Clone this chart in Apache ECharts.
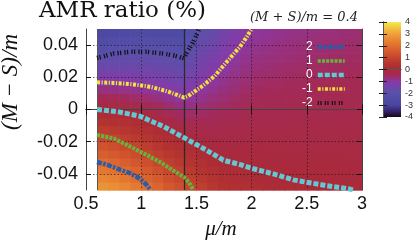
<!DOCTYPE html>
<html><head><meta charset="utf-8">
<script src="https://cdn.jsdelivr.net/npm/echarts@6/dist/echarts.min.js"></script>
<style>html,body{margin:0;padding:0;background:#fff}#c{width:416px;height:240px}</style>
</head><body><div id="c"></div>
<script>
// ---- data ----
const muCenters = [0.65,0.75,0.85,0.95,1.05,1.15,1.25,1.35,1.45,1.55,1.65,1.75,1.85,1.95,2.05,2.15,2.25,2.35,2.45,2.55,2.65,2.75,2.85,2.95];
const deltaCenters = [-0.0475,-0.0425,-0.0375,-0.0325,-0.0275,-0.0225,-0.0175,-0.0125,-0.0075,-0.0025,0.0025,0.0075,0.0125,0.0175,0.0225,0.0275,0.0325,0.0375,0.0425,0.0475];
// AMR ratio (%) per mu column, bottom (delta=-0.0475) to top (delta=0.0475)
const amrColumns = [
 [2.76,2.48,2.20,1.92,1.63,1.35,1.07,0.76,0.45,0.14,-0.16,-0.46,-0.75,-1.04,-1.35,-1.66,-1.97,-2.27,-2.53,-2.78],
 [2.66,2.37,2.09,1.80,1.51,1.23,0.94,0.66,0.37,0.09,-0.20,-0.49,-0.77,-1.06,-1.33,-1.61,-1.89,-2.16,-2.42,-2.68],
 [2.47,2.19,1.92,1.64,1.36,1.08,0.82,0.55,0.29,0.03,-0.25,-0.53,-0.81,-1.08,-1.33,-1.59,-1.85,-2.10,-2.35,-2.60],
 [2.23,1.97,1.71,1.45,1.18,0.93,0.68,0.44,0.20,-0.05,-0.32,-0.59,-0.85,-1.11,-1.35,-1.60,-1.84,-2.08,-2.32,-2.56],
 [2.03,1.77,1.51,1.26,1.00,0.77,0.53,0.30,0.07,-0.17,-0.42,-0.66,-0.91,-1.15,-1.38,-1.61,-1.85,-2.08,-2.30,-2.52],
 [1.78,1.53,1.28,1.03,0.80,0.59,0.37,0.15,-0.07,-0.30,-0.52,-0.75,-0.98,-1.20,-1.43,-1.66,-1.89,-2.11,-2.33,-2.55],
 [1.47,1.26,1.04,0.83,0.63,0.42,0.21,0.00,-0.21,-0.43,-0.64,-0.85,-1.07,-1.28,-1.50,-1.72,-1.93,-2.14,-2.35,-2.55],
 [1.26,1.06,0.86,0.66,0.46,0.26,0.06,-0.14,-0.35,-0.55,-0.76,-0.96,-1.17,-1.38,-1.58,-1.79,-1.99,-2.20,-2.40,-2.60],
 [1.02,0.83,0.65,0.46,0.28,0.09,-0.08,-0.25,-0.42,-0.59,-0.76,-0.93,-1.10,-1.28,-1.45,-1.62,-1.79,-1.97,-2.14,-2.30],
 [0.81,0.64,0.47,0.31,0.14,-0.03,-0.16,-0.29,-0.42,-0.56,-0.69,-0.82,-0.95,-1.08,-1.22,-1.35,-1.48,-1.61,-1.74,-1.88],
 [0.60,0.43,0.29,0.14,0.00,-0.11,-0.21,-0.32,-0.42,-0.53,-0.63,-0.74,-0.84,-0.95,-1.06,-1.19,-1.31,-1.44,-1.56,-1.69],
 [0.40,0.27,0.14,0.02,-0.07,-0.15,-0.24,-0.32,-0.41,-0.49,-0.58,-0.66,-0.75,-0.83,-0.92,-1.00,-1.10,-1.20,-1.30,-1.40],
 [0.30,0.20,0.09,-0.01,-0.09,-0.16,-0.23,-0.30,-0.38,-0.45,-0.52,-0.59,-0.67,-0.74,-0.81,-0.88,-0.96,-1.03,-1.11,-1.19],
 [0.24,0.15,0.05,-0.04,-0.10,-0.16,-0.23,-0.29,-0.35,-0.41,-0.48,-0.54,-0.60,-0.66,-0.73,-0.79,-0.85,-0.91,-0.97,-1.04],
 [0.18,0.10,0.01,-0.05,-0.10,-0.16,-0.21,-0.27,-0.32,-0.38,-0.43,-0.49,-0.54,-0.60,-0.65,-0.71,-0.76,-0.82,-0.87,-0.93],
 [0.08,0.03,-0.02,-0.07,-0.12,-0.17,-0.22,-0.27,-0.32,-0.37,-0.42,-0.47,-0.52,-0.57,-0.62,-0.67,-0.73,-0.78,-0.83,-0.88],
 [0.06,0.02,-0.03,-0.08,-0.13,-0.17,-0.22,-0.27,-0.32,-0.36,-0.41,-0.46,-0.51,-0.56,-0.60,-0.65,-0.70,-0.75,-0.79,-0.84],
 [0.04,0.00,-0.04,-0.09,-0.13,-0.18,-0.22,-0.27,-0.31,-0.36,-0.40,-0.44,-0.49,-0.53,-0.58,-0.62,-0.67,-0.71,-0.75,-0.80],
 [0.03,-0.02,-0.06,-0.10,-0.14,-0.18,-0.23,-0.27,-0.31,-0.35,-0.39,-0.44,-0.48,-0.52,-0.56,-0.60,-0.65,-0.69,-0.73,-0.77],
 [0.01,-0.03,-0.07,-0.11,-0.15,-0.19,-0.23,-0.27,-0.31,-0.35,-0.39,-0.43,-0.47,-0.50,-0.54,-0.58,-0.62,-0.66,-0.70,-0.74],
 [0.00,-0.04,-0.08,-0.11,-0.15,-0.19,-0.23,-0.27,-0.30,-0.34,-0.38,-0.42,-0.46,-0.49,-0.53,-0.57,-0.61,-0.65,-0.68,-0.72],
 [0.00,-0.04,-0.07,-0.11,-0.14,-0.18,-0.22,-0.25,-0.29,-0.33,-0.36,-0.40,-0.44,-0.47,-0.51,-0.55,-0.58,-0.62,-0.66,-0.70],
 [-0.01,-0.05,-0.08,-0.12,-0.15,-0.19,-0.22,-0.26,-0.29,-0.33,-0.36,-0.40,-0.43,-0.47,-0.50,-0.54,-0.57,-0.61,-0.64,-0.68],
 [-0.02,-0.05,-0.09,-0.12,-0.15,-0.19,-0.22,-0.26,-0.29,-0.32,-0.36,-0.39,-0.42,-0.46,-0.49,-0.53,-0.56,-0.59,-0.63,-0.66]
];
const cellWidth = 0.1;
const cellHeight = 0.005;

// contour lines (level -> [mu, delta] points)
const contourLevel2 = [[0.6,-0.0326],[0.7,-0.0345],[0.784,-0.0368],[0.88,-0.039],[0.965,-0.042],[1.02,-0.0448],[1.055,-0.0473],[1.085,-0.05]];
const contourLevel1 = [[0.6,-0.0158],[0.75,-0.018],[0.874,-0.0221],[0.99,-0.0262],[1.086,-0.0295],[1.18,-0.033],[1.267,-0.0369],[1.33,-0.0395],[1.388,-0.042],[1.43,-0.045],[1.46,-0.0485],[1.47,-0.05]];
const contourLevel0 = [[0.6,0.0],[0.8,-0.0015],[0.99,-0.0042],[1.2,-0.0105],[1.396,-0.0178],[1.59,-0.0252],[1.744,-0.0315],[1.895,-0.0342],[2.016,-0.0368],[2.197,-0.04],[2.378,-0.0437],[2.5,-0.0452],[2.68,-0.0473],[2.89,-0.0494],[2.92,-0.05]];
const contourLevelM1 = [[0.6,0.0169],[0.75,0.0165],[0.9,0.0158],[1.05,0.0145],[1.14,0.0131],[1.25,0.011],[1.35,0.0084],[1.39,0.0074],[1.427,0.0084],[1.49,0.0115],[1.56,0.0148],[1.668,0.021],[1.774,0.0295],[1.895,0.039],[1.95,0.0445],[2.0,0.05]];
const contourLevelM2 = [[0.6,0.032],[0.75,0.0347],[0.9,0.0358],[1.05,0.0358],[1.2,0.0347],[1.3,0.0335],[1.385,0.0318],[1.395,0.033],[1.42,0.036],[1.455,0.04],[1.49,0.0445],[1.525,0.05]];
const contourNames = ['2','1','0','-1','-2'];

const muBoundary = 1.39;
const muStart = 0.6;
const xTickValues = [0.5,1,1.5,2,2.5,3];
const yTickValues = [-0.04,-0.02,0,0.02,0.04];
const colorbarTicks = [-4,-3,-2,-1,0,1,2,3,4];
const paletteColors = ['#160818','#34246c','#4844a0','#504ca6','#5a50aa','#6e46aa','#8a38a6','#a42a58','#aa2a38','#b43430','#c4452e','#d4592e','#e06e30','#e88634','#eea03a','#f2c442','#f6ea4c'];

// ---- build ----
const heatData = [];
muCenters.forEach((mu, i) => deltaCenters.forEach((d, j) => heatData.push([mu, d, amrColumns[i][j]])));

const cbMin = colorbarTicks[0], cbMax = colorbarTicks[colorbarTicks.length - 1];
const gradStops = paletteColors.map((c, i) => ({offset: 1 - i / (paletteColors.length - 1), color: c}));

const sans = '"Liberation Sans", Arial, sans-serif';
const tickStyle = {show: true, inside: true, length: 5, lineStyle: {color: '#111', width: 1}};
const frameLine = {show: true, lineStyle: {color: '#444', width: 1}};

const lineStyles = [
  {color: '#2a5ca8', width: 4.5, type: [5, 1.4, 2.5, 1.4]},
  {color: '#66b43c', width: 4, type: [3, 1.2]},
  {color: '#62c8d4', width: 5, type: [5, 2]},
  {color: '#f2e23e', width: 4, type: [3, 1.5, 1.2, 1.5]},
  {color: '#111111', width: 4.5, type: [1.2, 1.4, 1.2, 3.2]}
];
const contourData = [contourLevel2, contourLevel1, contourLevel0, contourLevelM1, contourLevelM2];

const chart = echarts.init(document.getElementById('c'), null, {renderer: 'canvas'});

const series = [{
  type: 'custom', xAxisIndex: 0, yAxisIndex: 0, z: 1, silent: true,
  data: heatData,
  dimensions: ['mu', 'delta', 'amr'],
  encode: {x: 0, y: 1},
  renderItem: function (params, api) {
    const x = api.value(0), y = api.value(1);
    const p0 = api.coord([x - cellWidth / 2, y + cellHeight / 2]);
    const p1 = api.coord([x + cellWidth / 2, y - cellHeight / 2]);
    return {type: 'rect', shape: {x: p0[0], y: p0[1], width: p1[0] - p0[0] + 0.7, height: p1[1] - p0[1] + 0.7},
      style: {fill: api.visual('color')}};
  },
  markLine: {
    silent: true, symbol: ['none', 'none'], label: {show: false}, animation: false,
    data: [
      {xAxis: muBoundary, lineStyle: {color: '#2a2a2a', width: 1.3, type: 'solid'}},
      {xAxis: muStart, lineStyle: {color: '#555', width: 1, type: 'solid'}}
    ]
  }
}];
contourNames.forEach((name, i) => {
  series.push({
    type: 'line', name: name, xAxisIndex: 0, yAxisIndex: 0, z: 6,
    data: contourData[i], symbol: 'none', showSymbol: false, smooth: false,
    lineStyle: lineStyles[i], silent: true, animation: false
  });
});
series.push({
  type: 'custom', xAxisIndex: 2, yAxisIndex: 3, z: 1, silent: true,
  data: [[0, cbMin, cbMax]],
  renderItem: function (params, api) {
    const p0 = api.coord([0, api.value(2)]);
    const p1 = api.coord([1, api.value(1)]);
    return {type: 'rect', shape: {x: p0[0], y: p0[1], width: p1[0] - p0[0], height: p1[1] - p0[1]},
      style: {fill: new echarts.graphic.LinearGradient(0, 0, 0, 1, gradStops.slice().reverse())}};
  }
});

const option = {
  animation: false,
  backgroundColor: '#fff',
  grid: [
    {left: 86, top: 29, width: 276, height: 161, show: false},
    {left: 383, top: 22, width: 19, height: 95, show: false}
  ],
  visualMap: {show: false, type: 'continuous', min: cbMin, max: cbMax, dimension: 2, seriesIndex: 0,
    inRange: {color: paletteColors}},
  xAxis: [
    {type: 'value', gridIndex: 0, position: 'bottom', min: 0.5, max: 3, interval: 0.5, z: 4,
      axisLine: frameLine, axisTick: tickStyle,
      axisLabel: {fontFamily: sans, fontSize: 18, color: '#111', margin: 5},
      splitLine: {show: true, lineStyle: {color: 'rgba(25,25,25,0.65)', width: 1, type: [1.5, 2]}}},
    {type: 'value', gridIndex: 0, position: 'top', min: 0.5, max: 3, interval: 0.5, z: 4,
      axisLine: frameLine, axisTick: tickStyle, axisLabel: {show: false}, splitLine: {show: false}},
    {type: 'value', gridIndex: 1, position: 'bottom', min: 0, max: 1, z: 4,
      axisLine: {show: true, lineStyle: {color: '#555'}}, axisTick: {show: false}, axisLabel: {show: false}, splitLine: {show: false}},
    {type: 'value', gridIndex: 1, position: 'top', min: 0, max: 1, z: 4,
      axisLine: {show: true, lineStyle: {color: '#555'}}, axisTick: {show: false}, axisLabel: {show: false}, splitLine: {show: false}}
  ],
  yAxis: [
    {type: 'value', gridIndex: 0, position: 'left', min: -0.05, max: 0.05, interval: 0.01, z: 4,
      axisLine: frameLine, axisTick: {show: false},
      axisLabel: {fontFamily: sans, fontSize: 18, color: '#111', margin: 8,
        formatter: function (v) {
          const k = Math.round(v * 100);
          const hit = yTickValues.some(t => Math.abs(t - v) < 1e-9);
          if (!hit) return '';
          return k === 0 ? '0' : (k / 100).toFixed(2);
        }},
      splitLine: {show: true, lineStyle: {color: ['rgba(0,0,0,0)', 'rgba(25,25,25,0.65)'], width: 1, type: [1.5, 2]}}},
    {type: 'value', gridIndex: 0, position: 'left', min: -0.05, max: 0.05, z: 4,
      axisLine: {show: false}, axisTick: Object.assign({customValues: yTickValues}, tickStyle),
      axisLabel: {show: false}, splitLine: {show: false}},
    {type: 'value', gridIndex: 0, position: 'right', min: -0.05, max: 0.05, z: 4,
      axisLine: frameLine, axisTick: Object.assign({customValues: yTickValues}, tickStyle),
      axisLabel: {show: false}, splitLine: {show: false}},
    {type: 'value', gridIndex: 1, position: 'right', min: cbMin, max: cbMax, interval: 1, z: 4,
      axisLine: {show: true, lineStyle: {color: '#555'}},
      axisTick: {show: true, inside: true, length: 4, lineStyle: {color: '#222'}},
      axisLabel: {fontFamily: sans, fontSize: 9, color: '#333', margin: 4}, splitLine: {show: false}},
    {type: 'value', gridIndex: 1, position: 'left', min: cbMin, max: cbMax, interval: 1, z: 4,
      axisLine: {show: true, lineStyle: {color: '#555'}},
      axisTick: {show: true, inside: true, length: 4, lineStyle: {color: '#222'}},
      axisLabel: {show: false}, splitLine: {show: false}}
  ],
  legend: {
    orient: 'vertical', right: 64, top: 36, align: 'right',
    itemWidth: 27, itemHeight: 6, itemGap: 2,
    textStyle: {color: '#fff', fontFamily: sans, fontSize: 12, lineHeight: 12},
    data: contourNames.map((n, i) => ({name: n,
      itemStyle: {opacity: 0, color: 'rgba(0,0,0,0)', borderWidth: 0},
      lineStyle: {width: lineStyles[i].width - 0.5}}))
  },
  graphic: [
    {type: 'text', left: 39, top: 0, silent: true,
      style: {text: 'AMR ratio (%)', font: '23px "DejaVu Serif", serif', fill: '#111'}},
    {type: 'text', x: 358, y: 18, silent: true,
      style: {text: '(M + S)/m = 0.4', font: 'italic 13px "DejaVu Serif", serif', fill: '#222', align: 'right', verticalAlign: 'middle'}},
    {type: 'text', x: 11, y: 82, rotation: Math.PI / 2, silent: true,
      style: {text: '(M − S)/m', font: 'italic 23px "Liberation Serif", serif', fill: '#111', align: 'center', verticalAlign: 'middle'}},
    {type: 'text', x: 221, y: 229, silent: true,
      style: {text: 'μ/m', font: 'italic 21px "Liberation Serif", serif', fill: '#111', align: 'center', verticalAlign: 'middle'}}
  ],
  series: series
};
chart.setOption(option);
</script>
</body></html>
